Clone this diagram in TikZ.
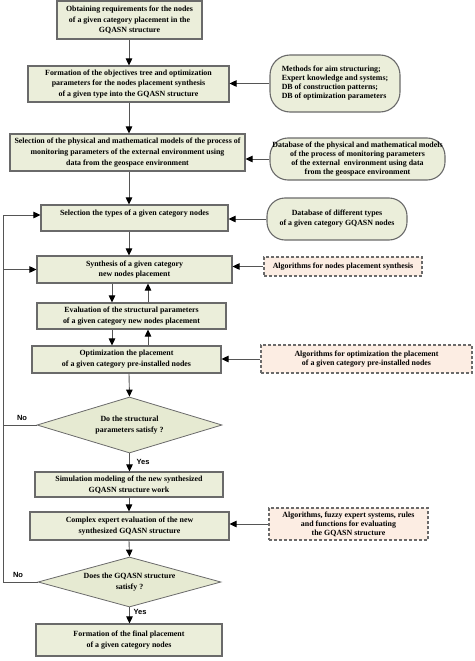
\documentclass[tikz,border=0pt]{standalone}
\usepackage{fontspec}
\setmainfont{Liberation Serif}
\newfontfamily\yesnofont{Liberation Sans}
\usetikzlibrary{shapes.geometric,arrows.meta}
\definecolor{boxfill}{HTML}{EBEEDA}
\definecolor{decfill}{HTML}{E6EAD2}
\definecolor{algofill}{HTML}{FCEDE3}
\definecolor{boxline}{HTML}{6A6A6A}
\definecolor{linecol}{HTML}{555555}
\tikzset{
  box/.style={draw=boxline, fill=boxfill, line width=1.1pt, inner sep=0pt, align=center,
    font=\fontsize{7.9}{10.8}\selectfont\bfseries},
  dbase/.style={box, rounded corners=18pt, font=\fontsize{7.9}{9}\selectfont\bfseries},
  algo/.style={box, fill=algofill, dash pattern=on 3pt off 2pt, font=\fontsize{7.9}{9}\selectfont\bfseries},
  dec/.style={diamond, draw=boxline, fill=decfill, line width=0.8pt, inner sep=0pt, align=center,
    font=\fontsize{7.9}{10.5}\selectfont\bfseries},
  arr/.style={-{Triangle[length=7pt,width=6.5pt,color=black]}, draw=linecol, line width=0.9pt},
  lbl/.style={font=\yesnofont\bfseries\fontsize{7.5}{8}\selectfont, inner sep=0pt}
}
\begin{document}
\begin{tikzpicture}[x=1pt,y=-1pt]
\useasboundingbox (0,0) rectangle (474,661);
% main boxes
\node[box, minimum width=145pt, minimum height=38pt] (b1) at (129.5,20) {Obtaining requirements for the nodes\\ of a given category placement in the\\ GQASN structure};
\node[box, minimum width=201pt, minimum height=36pt] (b2) at (128.5,84) {Formation of the objectives tree and optimization\\ parameters for the nodes placement synthesis\\ of a given type into the GQASN structure};
\node[box, minimum width=235pt, minimum height=37pt] (b3) at (127.5,152.5) {Selection of the physical and mathematical models of the process of\\ monitoring parameters of the external environment using\\ data from the geospace environment};
\node[box, minimum width=187pt, minimum height=26pt, text depth=10pt] (b4) at (134.5,218) {Selection the types of a given category nodes};
\node[box, minimum width=195pt, minimum height=27pt] (b5) at (134.5,269.5) {Synthesis of a given category\\ new nodes placement};
\node[box, minimum width=189pt, minimum height=26pt] (b6) at (131.5,316) {Evaluation of the structural parameters\\ of a given category new nodes placement};
\node[box, minimum width=189pt, minimum height=27pt] (b7) at (126.5,359.5) {Optimization the placement\\ of a given category pre-installed nodes};
\node[dec, aspect=3.3, minimum width=185pt, minimum height=56pt] (d1) at (129.5,425) {Do the structural\\ parameters satisfy ?};
\node[box, minimum width=188pt, minimum height=25pt] (b8) at (129,484.5) {Simulation modeling of the new synthesized\\ GQASN structure work};
\node[box, minimum width=199pt, minimum height=28pt] (b9) at (129.5,526) {Complex expert evaluation of the new\\ synthesized GQASN structure};
\node[dec, aspect=3.66, minimum width=183pt, minimum height=50pt] (d2) at (129.5,582) {Does the GQASN structure\\ satisfy ?};
\node[box, minimum width=186pt, minimum height=32pt] (b10) at (129,640) {Formation of the final placement\\ of a given category nodes};
% side resources
\node[dbase, minimum width=130pt, minimum height=57pt, align=left, rounded corners=20pt] (e1) at (335,83.5) {Methods for aim structuring;\\ Expert knowledge and systems;\\ DB of construction patterns;\\ DB of optimization parameters};
\node[dbase, minimum width=175pt, minimum height=42pt] (e2) at (357.5,159) {Database of the physical and mathematical models\\ of the process of monitoring parameters\\ of the external\ \ environment using data\\ from the geospace environment};
\node[dbase, minimum width=140pt, minimum height=42pt, font=\fontsize{7.9}{10}\selectfont\bfseries] (e3) at (337,219) {Database of different types\\ of a given category GQASN nodes};
\node[algo, minimum width=158pt, minimum height=19pt] (a1) at (343,266.5) {Algorithms for nodes placement synthesis};
\node[algo, minimum width=211pt, minimum height=28pt] (a2) at (366.5,359) {Algorithms for optimization the placement\\ of a given category pre-installed nodes};
\node[algo, minimum width=159pt, minimum height=32pt] (a3) at (348.5,524) {Algorithms, fuzzy expert systems, rules\\ and functions for evaluating\\ the GQASN structure};
% helper coordinates
\coordinate (sp) at (129,0);
\coordinate (xa) at (112,0);
\coordinate (xb) at (148,0);
\coordinate (lx) at (3,0);
% main flow
\draw[arr] (b1.south -| sp) -- (b2.north -| sp);
\draw[arr] (b2.south -| sp) -- (b3.north -| sp);
\draw[arr] (b3.south -| sp) -- (b4.north -| sp);
\draw[arr] (b4.south -| sp) -- (b5.north -| sp);
\draw[arr] (b5.south -| xa) -- (b6.north -| xa);
\draw[arr] (b6.north -| xb) -- (b5.south -| xb);
\draw[arr] (b6.south -| xa) -- (b7.north -| xa);
\draw[arr] (b7.north -| xb) -- (b6.south -| xb);
\draw[arr] (b7.south -| sp) -- (d1.north);
\draw[arr] (d1.south) -- (b8.north -| d1.south);
\draw[arr] (b8.south -| sp) -- (b9.north -| sp);
\draw[arr] (b9.south -| sp) -- (d2.north);
\draw[arr] (d2.south) -- (b10.north -| d2.south);
% side arrows
\draw[arr] (e1.west) -- (e1.west -| b2.east);
\draw[arr] (e2.west) -- (e2.west -| b3.east);
\draw[arr] (e3.west) -- (e3.west -| b4.east);
\draw[arr] (a1.west) -- (a1.west -| b5.east);
\draw[arr] (a2.west) -- (a2.west -| b7.east);
\draw[arr] (a3.west) -- (a3.west -| b9.east);
% feedback loops
\draw[arr] (d1.west) -- (d1.west -| lx) -- (b5.west -| lx) -- (b5.west);
\draw[arr] (d2.west) -- (d2.west -| lx) -- ([yshift=3pt]b4.west -| lx) -- ([yshift=3pt]b4.west);
% labels
\node[lbl] (no1) at (22,418) {No};
\node[lbl] (no2) at (18,575) {No};
\node[lbl] (yes1) at (143,462) {Yes};
\node[lbl] (yes2) at (140,612) {Yes};
\end{tikzpicture}
\end{document}
